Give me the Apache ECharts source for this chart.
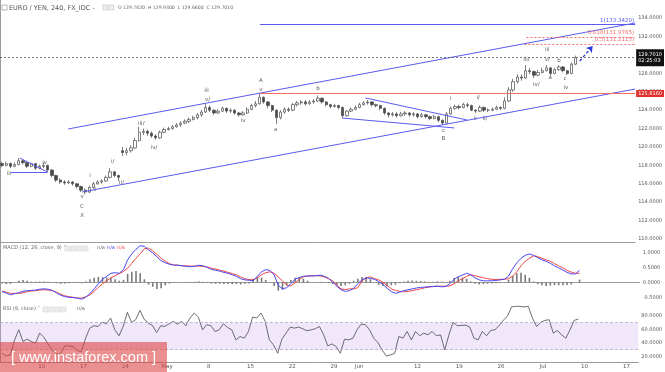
<!DOCTYPE html>
<html><head><meta charset="utf-8">
<script src="https://cdn.jsdelivr.net/npm/echarts@6/dist/echarts.min.js"></script>
<style>html,body{margin:0;padding:0;background:#fff}#c{width:665px;height:372px}</style>
</head><body><div id="c"></div>
<script>
// 12-hour bars, [open, close, low, high], first bar = Mon 3 Apr 2017 AM
const ohlc = [
[118.2,118.0,117.8,118.4],[118.0,118.2,117.9,118.4],[118.2,117.9,117.7,118.3],[117.9,118.1,117.8,118.3],[118.1,118.5,118.0,118.8],
[118.5,118.3,118.1,118.6],[118.3,117.9,117.7,118.4],[117.9,118.2,117.8,118.3],[118.2,117.7,117.5,118.2],[117.7,117.9,117.6,118.1],
[117.9,118.0,117.7,118.3],[118.0,117.5,117.3,118.1],[117.5,116.9,116.7,117.6],[116.9,116.4,116.2,117.0],[116.4,116.2,116.0,116.6],
[116.2,116.1,115.9,116.4],[116.1,116.2,116.0,116.4],[116.2,116.0,115.8,116.3],[116.0,115.7,115.5,116.1],[115.7,115.3,115.1,115.8],
[115.3,115.1,114.85,115.5],[115.1,115.6,115.0,115.8],[115.6,116.0,115.5,116.2],[116.0,116.2,115.9,116.4],[116.2,116.3,116.0,116.5],
[116.3,116.7,116.2,116.9],[116.7,117.3,116.6,117.7],[117.3,116.9,116.7,117.4],[116.9,116.7,116.3,117.0],[119.6,119.4,119.0,120.0],
[119.4,119.6,119.1,119.9],[119.6,119.9,119.4,120.2],[119.9,120.7,119.8,121.0],[120.7,121.6,120.6,122.2],[121.6,121.7,121.3,122.0],
[121.7,121.5,121.2,121.9],[121.5,121.2,121.0,121.7],[121.2,121.0,120.8,121.4],[121.0,121.6,120.9,121.8],[121.6,121.9,121.5,122.1],
[121.9,122.0,121.8,122.2],[122.0,122.2,121.9,122.4],[122.2,122.4,122.1,122.6],[122.4,122.6,122.2,122.8],[122.6,122.8,122.5,123.0],
[122.8,123.0,122.6,123.2],[123.0,123.2,122.9,123.4],[123.2,123.5,123.0,123.7],[123.5,123.8,123.3,124.0],[123.8,124.3,123.7,124.7],
[124.3,124.0,123.8,124.5],[124.0,123.7,123.5,124.1],[123.7,123.9,123.6,124.1],[123.9,124.2,123.8,124.4],[124.2,123.9,123.7,124.3],
[123.9,124.0,123.7,124.2],[124.0,123.7,123.5,124.1],[123.7,123.5,123.3,123.8],[123.5,123.7,123.4,123.9],[123.7,124.1,123.6,124.3],
[124.1,124.5,124.0,124.7],[124.5,124.7,124.3,125.0],[124.7,125.4,124.6,125.82],[125.4,124.9,124.7,125.5],[124.9,124.5,124.2,125.0],
[124.5,124.0,123.8,124.6],[124.0,123.2,122.5,124.1],[123.2,123.8,123.0,124.0],[123.8,124.1,123.6,124.3],[124.1,124.0,123.8,124.3],
[124.0,124.6,123.9,124.8],[124.6,124.8,124.4,125.0],[124.8,124.9,124.6,125.1],[124.9,124.7,124.5,125.1],[124.7,124.9,124.6,125.1],
[124.9,125.0,124.7,125.2],[125.0,125.3,124.9,125.6],[125.3,124.9,124.7,125.4],[124.9,124.6,124.4,125.0],[124.6,124.4,124.2,124.7],
[124.4,124.5,124.3,124.7],[124.5,124.3,124.1,124.6],[124.3,123.4,123.2,124.4],[123.4,123.9,123.3,124.0],[123.9,124.1,123.8,124.3],
[124.1,124.3,124.0,124.5],[124.3,124.6,124.2,124.8],[124.6,124.8,124.5,125.0],[124.8,124.9,124.6,125.1],[124.9,124.6,124.4,125.0],
[124.6,124.5,124.3,124.7],[124.5,124.2,124.0,124.6],[124.2,123.7,123.5,124.3],[123.7,123.5,123.2,123.8],[123.5,123.6,123.3,123.8],
[123.6,123.4,123.2,123.8],[123.4,123.6,123.3,123.8],[123.6,123.7,123.4,123.9],[123.7,123.5,123.3,123.8],[123.5,123.6,123.3,123.8],
[123.6,123.3,123.1,123.7],[123.3,123.5,123.2,123.7],[123.5,123.3,123.1,123.6],[123.3,123.1,122.9,123.4],[123.1,123.3,123.0,123.5],
[123.3,122.9,122.7,123.4],[122.9,122.6,122.4,123.0],[122.6,123.6,122.5,123.8],[123.6,124.2,123.5,124.4],[124.2,124.4,124.0,124.6],
[124.4,124.3,124.1,124.6],[124.3,124.6,124.2,124.8],[124.6,124.5,124.3,124.8],[124.5,124.0,123.9,124.6],[124.0,123.9,123.7,124.1],
[123.9,124.3,123.8,124.5],[124.3,124.0,123.8,124.4],[124.0,124.0,123.8,124.2],[124.0,124.1,123.9,124.3],[124.1,124.3,124.0,124.5],
[124.3,124.2,124.0,124.4],[124.2,125.0,124.1,125.4],[125.0,126.2,124.9,126.5],[126.2,127.1,126.0,127.4],[127.1,127.6,126.9,127.9],
[127.6,127.5,127.2,127.9],[127.5,128.3,127.4,128.9],[128.3,128.2,127.9,128.6],[128.2,127.8,127.5,128.3],[127.8,128.1,127.7,128.4],
[128.1,128.3,128.0,128.6],[128.3,128.6,128.2,128.9],[128.6,128.0,127.7,128.7],[128.0,128.4,127.9,128.6],[128.4,128.7,128.3,128.9],
[128.7,128.3,128.1,128.8],[128.3,128.0,127.8,128.4],[128.0,129.0,127.9,129.2],[129.0,129.701,128.9,129.93]
];
const macdLine = [
-0.31,-0.36,-0.42,-0.38,-0.35,-0.30,-0.28,-0.27,-0.26,-0.23,-0.22,-0.23,-0.27,-0.35,-0.43,-0.48,-0.50,-0.51,-0.53,-0.56,
-0.50,-0.38,-0.22,-0.05,0.10,0.20,0.30,0.32,0.30,0.42,0.75,0.95,1.10,1.22,1.20,1.08,0.98,0.85,0.72,0.65,
0.60,0.57,0.57,0.55,0.53,0.52,0.53,0.57,0.55,0.50,0.43,0.40,0.37,0.33,0.30,0.25,0.20,0.12,0.08,0.07,
0.05,0.20,0.35,0.42,0.40,0.25,-0.10,-0.22,-0.18,-0.05,0.10,0.16,0.20,0.21,0.21,0.22,0.24,0.20,0.13,0.00,
-0.13,-0.25,-0.30,-0.28,-0.20,-0.05,0.08,0.15,0.13,0.10,0.02,-0.07,-0.20,-0.31,-0.37,-0.33,-0.28,-0.25,-0.22,-0.19,
-0.17,-0.16,-0.15,-0.14,-0.13,-0.15,-0.14,-0.05,0.10,0.18,0.24,0.30,0.25,0.15,0.08,0.05,0.05,0.05,0.06,0.08,
0.10,0.20,0.45,0.65,0.80,0.90,0.94,0.90,0.82,0.75,0.70,0.63,0.55,0.48,0.41,0.33,0.28,0.28,0.40
];
const signalLine = [
-0.29,-0.33,-0.37,-0.37,-0.37,-0.35,-0.31,-0.29,-0.28,-0.26,-0.25,-0.26,-0.28,-0.33,-0.40,-0.45,-0.48,-0.50,-0.52,-0.53,
-0.48,-0.42,-0.30,-0.17,-0.05,0.05,0.15,0.22,0.29,0.36,0.47,0.63,0.80,0.95,1.12,1.14,1.05,0.93,0.80,0.70,
0.62,0.58,0.57,0.55,0.55,0.54,0.54,0.54,0.53,0.51,0.47,0.44,0.41,0.37,0.33,0.29,0.25,0.18,0.12,0.09,
0.08,0.15,0.25,0.32,0.35,0.30,0.18,0.05,-0.10,-0.12,-0.02,0.10,0.18,0.21,0.22,0.22,0.21,0.18,0.12,0.05,
-0.10,-0.22,-0.24,-0.22,-0.22,-0.18,0.05,0.15,0.18,0.12,0.08,0.00,-0.10,-0.22,-0.27,-0.30,-0.32,-0.30,-0.28,-0.25,
-0.22,-0.18,-0.16,-0.14,-0.13,-0.13,-0.13,-0.12,-0.05,0.05,0.12,0.20,0.25,0.22,0.18,0.15,0.12,0.10,0.09,0.10,
0.10,0.12,0.20,0.35,0.55,0.70,0.80,0.88,0.86,0.80,0.75,0.70,0.62,0.55,0.48,0.40,0.34,0.30,0.30
];
const histogram = [
-0.04,-0.06,-0.05,0.00,0.05,0.08,0.05,0.02,0.02,0.03,0.03,0.02,0.00,-0.03,-0.05,-0.04,-0.03,-0.02,-0.02,-0.03,
0.03,0.10,0.15,0.18,0.17,0.16,0.14,0.10,0.05,0.08,0.28,0.35,0.38,0.30,0.10,-0.08,-0.15,-0.22,-0.20,-0.10,
-0.04,-0.02,0.00,0.01,0.00,-0.02,0.02,0.03,0.02,-0.02,-0.04,-0.05,-0.05,-0.06,-0.06,-0.06,-0.06,-0.07,-0.05,-0.04,
0.12,0.18,0.16,0.08,0.00,-0.12,-0.28,-0.25,-0.10,0.08,0.15,0.17,0.12,0.05,0.00,0.00,0.02,0.01,-0.02,-0.06,
-0.10,-0.12,-0.10,-0.05,0.05,0.12,0.18,0.17,0.10,0.00,-0.08,-0.12,-0.14,-0.10,-0.08,-0.03,0.03,0.05,0.06,0.05,
0.04,0.03,0.02,0.02,0.03,0.02,0.00,0.05,0.14,0.18,0.16,0.12,0.03,-0.05,-0.07,-0.06,-0.05,-0.04,-0.03,-0.02,
0.00,0.08,0.22,0.30,0.32,0.25,0.15,0.03,-0.06,-0.10,-0.12,-0.11,-0.10,-0.10,-0.10,-0.09,-0.07,0.00,0.09
];
const rsi = [
24.5,20.5,22,44.5,59.5,42,45.5,42,39.5,54.5,48.5,38.5,29.5,23.5,23.5,35.5,35.5,34.5,28.5,27,
47,62,65.5,64.5,71,68.5,77,59.5,50.5,64.5,85.5,70.5,74.5,88.5,75.5,69.5,66,55.5,65.5,64.5,
68.5,72,68,72,65.5,77,84.5,78.5,59.5,67,65.5,57,59.5,68.5,63,59.5,44.5,49.5,47,57,
78.5,77,84.5,72,44.5,37,24.5,45.5,54.5,63.5,62,63.5,61,58,59.5,61,64.5,52,35.5,38.5,
34.5,24.5,45.5,44.5,47,59.5,68,67,59.5,47,40.5,29.5,20.5,22,24.5,49.5,47,57,44.5,57,
50.5,54.5,52,57,50.5,52,29.5,52,70.5,65.5,66,66.5,63.5,47,44.5,57,50.5,58.5,59.5,65.5,
73.5,79.5,93.5,94.5,94.5,93.5,94.5,77,64.5,70.5,73.5,74.5,54.5,58.5,52,47,59.5,73.5,75.5
];
const priceTicks = [110,112,114,116,118,120,122,124,126,128,130,132,134];
const macdTicks = [-0.5,0,0.5,1];
const rsiTicks = [20,40,60,80];
const dateTickDays = [5,10,15,20,25,30,35,40,43,50,55,60,65,70,75];
const dateTickLabels = ['10','17','24','May','8','15','22','29','Jun','12','19','26','Jul','10','17'];
// [trading day, price, text]
const waveLabels = [
[1.08,117.07,'iii'],[5.36,118.26,'iv'],[9.87,114.57,'v'],[9.87,113.48,'C'],[9.87,112.5,'X'],
[10.82,116.85,'i'],[11.42,115.33,'ii'],[13.56,118.37,'i/'],[14.63,116.09,'ii/'],[17.0,122.5,'iii/'],
[18.55,119.89,'iv/'],[24.85,126.09,'iii'],[24.97,125.11,'v/'],[29.25,122.83,'iv'],[31.39,127.17,'A'],
[31.39,126.2,'v'],[33.17,121.85,'a'],[38.28,126.3,'b'],[53.37,121.74,'c'],[53.37,120.87,'B'],
[54.2,125.22,'i'],[57.18,123.04,'ii'],[57.53,125.33,'i/'],[58.36,123.04,'ii/'],[63.35,129.46,'iii/'],
[64.54,126.74,'iv/'],[65.85,130.54,'iii'],[65.85,129.46,'v/'],[66.2,127.5,'a'],[67.28,129.35,'b'],
[67.99,127.39,'c'],[68.1,126.41,'iv']
];
// trend lines: [[day, price], [day, price]]
const channelLines = [
[[8.21,121.96],[76.43,133.48]],
[[9.87,115.11],[76.43,126.30]],
[[2.39,118.80],[5.71,117.28]],
[[1.32,117.28],[5.71,117.28]],
[[43.98,125.33],[56.22,122.93]],
[[41.13,123.15],[54.68,122.07]]
];
const arrowLine = [[69.77,129.35],[71.32,130.98]];
const lastPrice = 129.701, lastPriceText = '129.7010', countdown = '02:25:03';
const resistance = 125.816, resistanceText = '125.8160', resistanceFrom = 31.27;
const target = 133.342, targetText = '1(133.3420)', targetFrom = 31.27;
const fibs = [[131.9765,'0.618(131.9765)',63.35],[131.2115,'0.5(131.2115)',63.1]];

const DMAX = 76.43;
const F = 'DejaVu Sans';
const barDay = i => i * 0.5 + 0.25;
const candleData = ohlc.map((r, i) => [barDay(i), r[0], r[1], r[2], r[3]]);
const macdData = macdLine.map((v, i) => [barDay(i), v]);
const sigData = signalLine.map((v, i) => [barDay(i), v]);
const histData = histogram.map((v, i) => [barDay(i), v]);
const rsiData = rsi.map((v, i) => [barDay(i), v]);
const blue = '#5b5bf2', red = '#f26b6b';

function xAx(gi, showLabels) {
  return {
    type: 'value', gridIndex: gi, min: 0, max: DMAX,
    axisLine: { show: true, lineStyle: { color: '#9a9a9a', width: 1 } },
    axisTick: { show: false }, splitLine: { show: false },
    axisLabel: showLabels ? {
      show: true, customValues: dateTickDays, fontSize: 5.5, color: '#555', fontFamily: F, margin: 2,
      formatter: v => { const k = dateTickDays.findIndex(d => Math.abs(d - v) < 1e-6); return k >= 0 ? dateTickLabels[k] : ''; }
    } : { show: false }
  };
}
function yAx(gi, min, max, ticks, dec) {
  return {
    type: 'value', gridIndex: gi, position: 'right', min: min, max: max, scale: true,
    axisLine: { show: true, lineStyle: { color: '#9a9a9a', width: 1 } },
    axisTick: { show: false }, splitLine: { show: false },
    axisLabel: { show: true, customValues: ticks, fontSize: 5, color: '#555', fontFamily: F, margin: 3,
      formatter: v => v.toFixed(dec) }
  };
}
const mlLines = channelLines.map(l => [{ coord: l[0] }, { coord: l[1] }]);

const option = {
  animation: false,
  backgroundColor: '#fff',
  grid: [
    { left: -3.07, right: 25, top: 0, height: 242 },
    { left: -3.07, right: 25, top: 242, height: 60 },
    { left: -3.07, right: 25, top: 302, height: 60 }
  ],
  xAxis: [xAx(0, false), xAx(1, false), xAx(2, true)],
  yAxis: [
    yAx(0, 109.674, 135.978, priceTicks, 4),
    yAx(1, -0.657, 1.343, macdTicks, 4),
    yAx(2, 11.5, 100.9, rsiTicks, 4)
  ],
  series: [
    {
      type: 'candlestick', xAxisIndex: 0, yAxisIndex: 0, data: candleData,
      encode: { x: 0, y: [1, 2, 3, 4] }, barWidth: 2.8,
      itemStyle: { color: '#ffffff', color0: '#4a4a4a', borderColor: '#4a4a4a', borderColor0: '#4a4a4a', borderWidth: 0.7 },
      markLine: {
        silent: true, symbol: 'none', animation: false,
        data: [
          ...mlLines.map(d => { d[0].lineStyle = { color: blue, width: 1, type: 'solid' }; return d; }),
          [{ coord: [targetFrom, target], lineStyle: { color: blue, width: 1, type: 'solid' },
             label: { show: true, position: 'insideEndTop', formatter: targetText, color: blue, fontSize: 5.5, fontFamily: F, distance: 1 } },
           { coord: [DMAX, target] }],
          ...fibs.map(f => [{ coord: [f[2], f[0]], lineStyle: { color: red, width: 1, type: [2, 2] },
             label: { show: true, position: 'insideEndTop', formatter: f[1], color: red, fontSize: 5.5, fontFamily: F, distance: 1 } },
             { coord: [DMAX, f[0]] }]),
          [{ coord: [resistanceFrom, resistance], lineStyle: { color: red, width: 1, type: 'solid' },
             label: { show: true, position: 'end', formatter: resistanceText, color: '#fff', backgroundColor: '#e03030', fontSize: 5, fontFamily: F, padding: [1, 2], distance: 1 } },
           { coord: [DMAX, resistance] }],
          [{ coord: [0, lastPrice], lineStyle: { color: '#555', width: 0.8, type: [2, 2] },
             label: { show: true, position: 'end', formatter: lastPriceText + '\n' + countdown, color: '#fff', backgroundColor: '#111', fontSize: 5, lineHeight: 6.5, fontFamily: F, padding: [4, 2, 0, 2], distance: 1 } },
           { coord: [DMAX, lastPrice] }],
          [{ coord: arrowLine[0], symbol: 'none', lineStyle: { color: '#2a3bd8', width: 1.3, type: [3, 2] } },
           { coord: arrowLine[1], symbol: 'arrow', symbolSize: 6 }]
        ]
      }
    },
    {
      type: 'scatter', xAxisIndex: 0, yAxisIndex: 0, symbolSize: 1, silent: true,
      itemStyle: { color: 'rgba(0,0,0,0)' },
      data: waveLabels.map(w => ({ value: [w[0], w[1]], label: { formatter: w[2] } })),
      label: { show: true, position: 'inside', fontSize: 5.5, color: '#333', fontFamily: F }
    },
    {
      type: 'bar', xAxisIndex: 1, yAxisIndex: 1, data: histData, barWidth: 1.6,
      itemStyle: { color: '#7a7a7a' }
    },
    { type: 'line', xAxisIndex: 1, yAxisIndex: 1, data: sigData, showSymbol: false, lineStyle: { color: '#f04848', width: 1 } },
    { type: 'line', xAxisIndex: 1, yAxisIndex: 1, data: macdData, showSymbol: false, lineStyle: { color: '#4848f5', width: 1 } },
    {
      type: 'line', xAxisIndex: 2, yAxisIndex: 2, data: rsiData, showSymbol: false,
      lineStyle: { color: '#4a4a4a', width: 0.8 },
      markArea: { silent: true, itemStyle: { color: 'rgba(200,170,240,0.28)' }, data: [[{ yAxis: 30 }, { yAxis: 70 }]] },
      markLine: { silent: true, symbol: 'none', label: { show: false },
        lineStyle: { color: '#b0a8c0', type: [3, 2], width: 0.8 }, data: [{ yAxis: 30 }, { yAxis: 70 }] }
    }
  ],
  graphic: [
    { type: 'line', shape: { x1: 0.5, y1: 0, x2: 0.5, y2: 362 }, style: { stroke: '#c8c8c8', lineWidth: 1 } },
    { type: 'rect', shape: { x: 2, y: 5, width: 5, height: 5 }, style: { fill: '#fff', stroke: '#888', lineWidth: 0.6 } },
    { type: 'text', x: 9, y: 4.5, style: { text: 'EURO / YEN, 240, FX_IDC -', fontSize: 6.5, fill: '#555', fontFamily: F } },
    { type: 'rect', shape: { x: 103, y: 5, width: 5, height: 5 }, style: { fill: '#eee', stroke: '#bbb', lineWidth: 0.5 } },
    { type: 'rect', shape: { x: 109, y: 5, width: 5, height: 5 }, style: { fill: '#eee', stroke: '#bbb', lineWidth: 0.5 } },
    { type: 'text', x: 118, y: 5.5, style: { text: 'O 129.7620  H 129.9300  L 129.6600  C 129.7010', fontSize: 4.6, fill: '#666', fontFamily: F } },
    { type: 'text', x: 3, y: 245.5, style: { text: 'MACD (12, 26, close, 9) \u02c5', fontSize: 5, fill: '#666', fontFamily: F } },
    { type: 'rect', shape: { x: 65, y: 246, width: 5, height: 5 }, style: { fill: '#eee', stroke: '#ccc', lineWidth: 0.5 } },
    { type: 'rect', shape: { x: 71, y: 246, width: 5, height: 5 }, style: { fill: '#eee', stroke: '#ccc', lineWidth: 0.5 } },
    { type: 'rect', shape: { x: 77, y: 246, width: 5, height: 5 }, style: { fill: '#eee', stroke: '#ccc', lineWidth: 0.5 } },
    { type: 'rect', shape: { x: 83, y: 246, width: 5, height: 5 }, style: { fill: '#eee', stroke: '#ccc', lineWidth: 0.5 } },
    { type: 'text', x: 97, y: 245.5, style: { text: 'n/a', fontSize: 5, fill: '#666', fontFamily: F } },
    { type: 'text', x: 107, y: 245.5, style: { text: 'n/a', fontSize: 5, fill: '#4848f5', fontFamily: F } },
    { type: 'text', x: 117, y: 245.5, style: { text: 'n/a', fontSize: 5, fill: '#f04848', fontFamily: F } },
    { type: 'text', x: 3, y: 306.5, style: { text: 'RSI (9, close) \u02c5', fontSize: 5, fill: '#666', fontFamily: F } },
    { type: 'rect', shape: { x: 43, y: 307, width: 5, height: 5 }, style: { fill: '#eee', stroke: '#ccc', lineWidth: 0.5 } },
    { type: 'rect', shape: { x: 49, y: 307, width: 5, height: 5 }, style: { fill: '#eee', stroke: '#ccc', lineWidth: 0.5 } },
    { type: 'rect', shape: { x: 55, y: 307, width: 5, height: 5 }, style: { fill: '#eee', stroke: '#ccc', lineWidth: 0.5 } },
    { type: 'rect', shape: { x: 61, y: 307, width: 5, height: 5 }, style: { fill: '#eee', stroke: '#ccc', lineWidth: 0.5 } },
    { type: 'text', x: 77, y: 306.5, style: { text: 'n/a', fontSize: 5, fill: '#666', fontFamily: F } },
    { type: 'rect', z: 100, shape: { x: 0, y: 342, width: 167, height: 30 }, style: { fill: 'rgba(222,70,70,0.6)' } },
    { type: 'text', z: 101, x: 83.5, y: 357.5, style: { text: '[ www.instaforex.com ]', fontSize: 14.5, fill: '#fff', fontFamily: 'Liberation Sans', align: 'center', verticalAlign: 'middle' } }
  ]
};
const chart = echarts.init(document.getElementById('c'), null, { renderer: 'canvas' });
chart.setOption(option);
</script></body></html>
